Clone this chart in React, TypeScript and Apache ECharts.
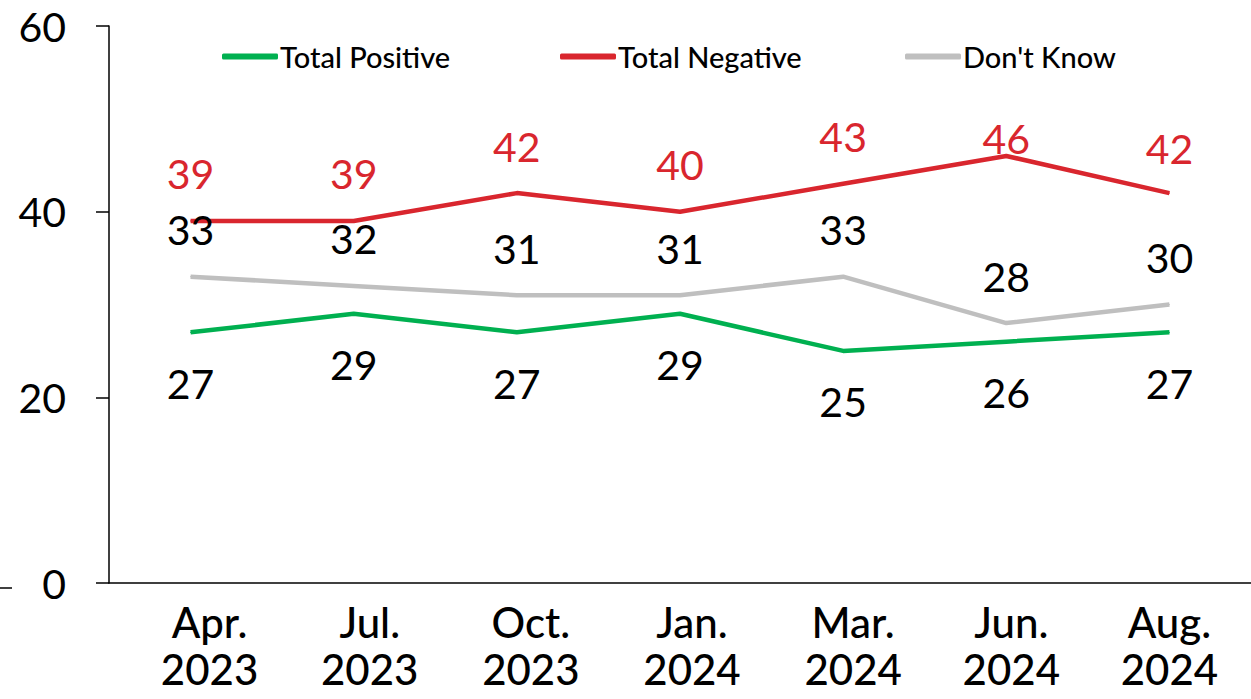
import React, { useEffect, useRef } from "react";
import * as echarts from "echarts";

const categories = ["Apr.\n2023", "Jul.\n2023", "Oct.\n2023", "Jan.\n2024", "Mar.\n2024", "Jun.\n2024", "Aug.\n2024"];
const totalPositive = [27, 29, 27, 29, 25, 26, 27];
const totalNegative = [39, 39, 42, 40, 43, 46, 42];
const dontKnow = [33, 32, 31, 31, 33, 28, 30];
const negativeLabelShift = [0, 0, 0, 0, 0, 30, 2];
const categoryLabelShift = [19, 16, 14, 12, 10, 5, 0];

const GREEN = "#00B050";
const RED = "#D9262E";
const GRAY = "#BFBFBF";
const FONT = "Lato";

export default function App() {
  const ref = useRef<HTMLDivElement>(null);
  useEffect(() => {
    if (!ref.current) return;
    const chart = echarts.init(ref.current, undefined, { renderer: "svg" });
    const legendBase = (name: string, color: string, left: number) => ({
      data: [name],
      left,
      top: 42,
      padding: 0,
      icon: "roundRect",
      itemWidth: 56,
      itemHeight: 6,
      itemStyle: { color },
      textStyle: { fontFamily: FONT, fontSize: 29, fontWeight: 500, color: "#000", padding: [0, 0, 0, -3] },
    });
    chart.setOption({
      animation: false,
      backgroundColor: "#fff",
      textStyle: { fontFamily: FONT },
      legend: [
        legendBase("Total Positive", GREEN, 222),
        legendBase("Total Negative", RED, 560),
        legendBase("Don't Know", GRAY, 905),
      ],
      grid: { left: 109, right: -13, top: 26, bottom: 116, containLabel: false },
      xAxis: {
        type: "category",
        data: categories.map((c, i) => ({
          value: c,
          textStyle: { padding: [0, 0, 0, categoryLabelShift[i] * 2] },
        })),
        boundaryGap: true,
        axisLine: { lineStyle: { color: "#000", width: 1.5 } },
        axisTick: { show: false },
        axisLabel: { fontFamily: FONT, fontSize: 42, fontWeight: 500, color: "#000", lineHeight: 47, margin: 15 },
        splitLine: { show: false },
      },
      yAxis: {
        type: "value",
        min: 0,
        max: 60,
        interval: 20,
        axisLine: { show: true, lineStyle: { color: "#000", width: 1.5 } },
        axisTick: { show: true, length: 13, lineStyle: { color: "#000", width: 1.5 } },
        axisLabel: { fontFamily: FONT, fontSize: 41, color: "#000", margin: 43 },
        splitLine: { show: false },
      },
      series: [
        {
          name: "Total Positive",
          type: "line",
          data: totalPositive,
          symbol: "circle",
          symbolSize: 1,
          itemStyle: { color: GREEN },
          lineStyle: { color: GREEN, width: 4.5 },
          label: { show: true, position: "bottom", distance: 30, fontFamily: FONT, fontSize: 41, color: "#000" },
        },
        {
          name: "Total Negative",
          type: "line",
          data: totalNegative.map((v, i) => ({ value: v, label: { offset: [0, negativeLabelShift[i]] } })),
          symbol: "circle",
          symbolSize: 1,
          itemStyle: { color: RED },
          lineStyle: { color: RED, width: 4.5 },
          label: { show: true, position: "top", distance: 26, fontFamily: FONT, fontSize: 41, color: RED },
        },
        {
          name: "Don't Know",
          type: "line",
          data: dontKnow,
          symbol: "circle",
          symbolSize: 1,
          itemStyle: { color: GRAY },
          lineStyle: { color: GRAY, width: 4.5 },
          label: { show: true, position: "top", distance: 26, fontFamily: FONT, fontSize: 41, color: "#000" },
        },
      ],
      graphic: [
        { type: "line", shape: { x1: 0, y1: 588, x2: 12, y2: 588 }, style: { stroke: "#000", lineWidth: 1.5 } },
      ],
    });
    return () => chart.dispose();
  }, []);
  return <div ref={ref} style={{ position: "fixed", left: 0, top: 0, width: 1251, height: 699 }} />;
}
